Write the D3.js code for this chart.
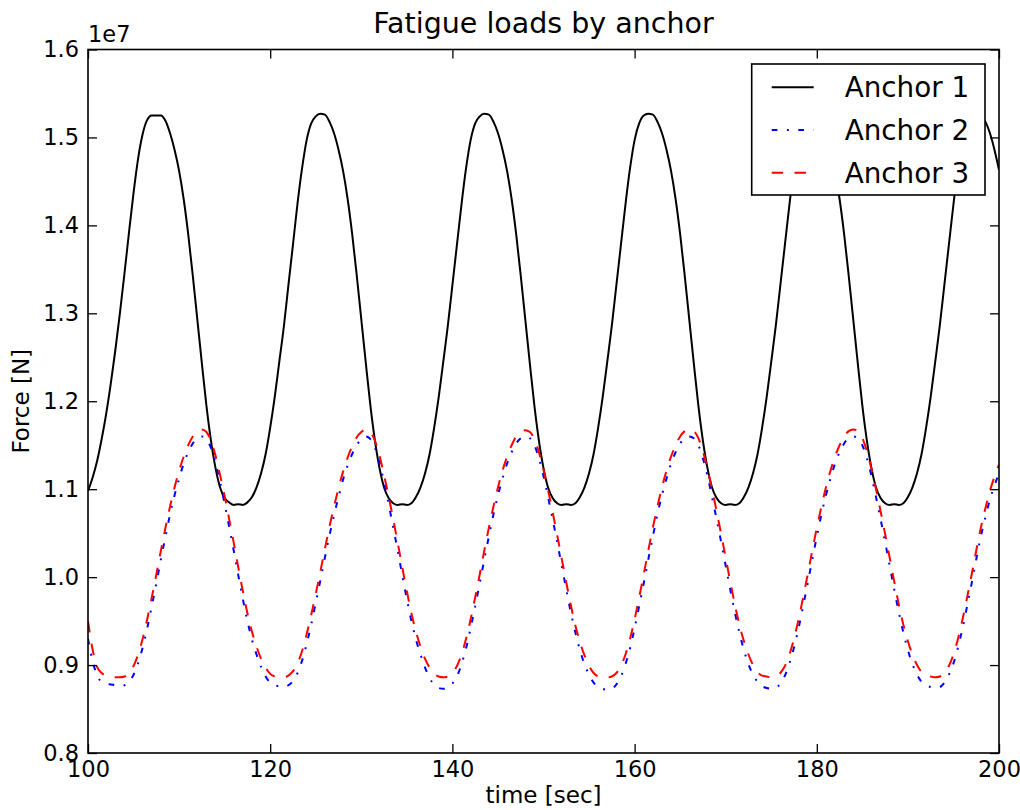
<!DOCTYPE html>
<html>
<head>
<meta charset="utf-8">
<script src="https://cdn.jsdelivr.net/npm/d3@7"></script>
<style>
  body { margin: 0; background: #fff; }
  text { font-family: "DejaVu Sans", sans-serif; fill: #000; }
</style>
</head>
<body>
<script>
// sampling grid of the time series (sec)
const tStart = 100, tStep = 0.5;

// force values in units of 1e7 N, one sample every 0.5 s from t=100 to t=200
const anchor1 = [
  1.098, 1.113, 1.132, 1.157, 1.186, 1.220, 1.258, 1.300, 1.345, 1.392, 1.437, 1.476, 1.504, 1.520, 1.525,
  1.525, 1.525, 1.519, 1.505, 1.486, 1.462, 1.430, 1.390, 1.343, 1.293, 1.243, 1.195, 1.155, 1.124, 1.102, 1.090, 1.085, 1.082,
  1.083, 1.082, 1.085, 1.091, 1.102, 1.118, 1.140, 1.170, 1.205, 1.245, 1.285, 1.332, 1.378, 1.425, 1.465, 1.497, 1.516, 1.524,
  1.527, 1.526, 1.518, 1.505, 1.486, 1.462, 1.430, 1.390, 1.343, 1.293, 1.243, 1.195, 1.155, 1.124, 1.102, 1.090, 1.084, 1.082,
  1.083, 1.082, 1.084, 1.091, 1.102, 1.118, 1.140, 1.170, 1.205, 1.245, 1.286, 1.332, 1.378, 1.424, 1.465, 1.497, 1.516, 1.524,
  1.527, 1.526, 1.518, 1.505, 1.486, 1.462, 1.430, 1.390, 1.343, 1.293, 1.243, 1.195, 1.155, 1.124, 1.102, 1.090, 1.084, 1.082,
  1.083, 1.082, 1.084, 1.091, 1.102, 1.118, 1.140, 1.170, 1.205, 1.245, 1.286, 1.332, 1.378, 1.424, 1.465, 1.497, 1.516, 1.525,
  1.527, 1.526, 1.518, 1.505, 1.486, 1.462, 1.430, 1.390, 1.343, 1.293, 1.243, 1.195, 1.155, 1.124, 1.102, 1.090, 1.084, 1.082,
  1.083, 1.082, 1.084, 1.091, 1.102, 1.118, 1.140, 1.170, 1.205, 1.245, 1.286, 1.332, 1.378, 1.424, 1.465, 1.497, 1.516, 1.524,
  1.527, 1.526, 1.518, 1.505, 1.486, 1.462, 1.430, 1.390, 1.343, 1.293, 1.243, 1.195, 1.155, 1.124, 1.102, 1.090, 1.084, 1.082,
  1.083, 1.082, 1.084, 1.091, 1.102, 1.118, 1.140, 1.170, 1.205, 1.245, 1.286, 1.332, 1.378, 1.424, 1.465, 1.497, 1.516, 1.524,
  1.527, 1.525, 1.518, 1.505, 1.486, 1.463
];

const anchor2 = [
  0.930, 0.905, 0.888, 0.881, 0.879, 0.878, 0.877,
  0.876, 0.877, 0.881, 0.889, 0.902, 0.920, 0.942, 0.967, 0.993, 1.020, 1.046, 1.071, 1.093, 1.112, 1.129, 1.142, 1.152, 1.158, 1.160,
  1.157, 1.147, 1.130, 1.108, 1.083, 1.057, 1.030, 1.002, 0.975, 0.950, 0.929, 0.912, 0.898, 0.887, 0.880, 0.877, 0.876,
  0.875, 0.877, 0.882, 0.891, 0.905, 0.924, 0.946, 0.971, 0.996, 1.022, 1.047, 1.070, 1.091, 1.111, 1.127, 1.140, 1.150, 1.157, 1.160,
  1.157, 1.147, 1.130, 1.108, 1.083, 1.057, 1.030, 1.002, 0.975, 0.950, 0.929, 0.912, 0.897, 0.885, 0.878, 0.874, 0.873,
  0.874, 0.879, 0.887, 0.901, 0.919, 0.942, 0.967, 0.993, 1.020, 1.046, 1.071, 1.093, 1.112, 1.129, 1.142, 1.152, 1.158, 1.160,
  1.158, 1.150, 1.135, 1.115, 1.091, 1.066, 1.040, 1.013, 0.986, 0.960, 0.937, 0.917, 0.901, 0.889, 0.880, 0.875, 0.873, 0.872,
  0.873, 0.878, 0.887, 0.901, 0.919, 0.942, 0.967, 0.993, 1.020, 1.046, 1.071, 1.093, 1.112, 1.129, 1.142, 1.152, 1.158, 1.160,
  1.158, 1.150, 1.135, 1.115, 1.091, 1.066, 1.040, 1.013, 0.986, 0.960, 0.937, 0.917, 0.901, 0.889, 0.881, 0.876, 0.874, 0.873,
  0.874, 0.879, 0.888, 0.902, 0.920, 0.942, 0.967, 0.993, 1.020, 1.046, 1.071, 1.093, 1.112, 1.129, 1.142, 1.152, 1.158, 1.160,
  1.158, 1.150, 1.135, 1.115, 1.091, 1.066, 1.040, 1.013, 0.986, 0.960, 0.937, 0.917, 0.901, 0.889, 0.881, 0.877, 0.875, 0.874,
  0.875, 0.880, 0.889, 0.902, 0.920, 0.942, 0.967, 0.993, 1.020, 1.046, 1.068, 1.088, 1.104, 1.118
];

const anchor3 = [
  0.950, 0.918, 0.898, 0.891, 0.888, 0.887, 0.886,
  0.886, 0.887, 0.891, 0.899, 0.912, 0.930, 0.952, 0.977, 1.003, 1.030, 1.056, 1.080, 1.102, 1.121, 1.137, 1.150, 1.160, 1.166, 1.168,
  1.165, 1.155, 1.138, 1.116, 1.092, 1.066, 1.039, 1.011, 0.984, 0.959, 0.938, 0.921, 0.907, 0.897, 0.890, 0.887, 0.886,
  0.886, 0.888, 0.893, 0.902, 0.916, 0.935, 0.957, 0.981, 1.006, 1.032, 1.057, 1.080, 1.101, 1.120, 1.136, 1.149, 1.159, 1.165, 1.168,
  1.165, 1.155, 1.138, 1.116, 1.092, 1.066, 1.039, 1.011, 0.984, 0.959, 0.938, 0.921, 0.907, 0.897, 0.890, 0.887, 0.886,
  0.887, 0.891, 0.899, 0.912, 0.930, 0.952, 0.977, 1.003, 1.030, 1.056, 1.080, 1.102, 1.121, 1.137, 1.150, 1.160, 1.165, 1.167,
  1.165, 1.157, 1.142, 1.122, 1.099, 1.074, 1.048, 1.021, 0.994, 0.968, 0.945, 0.926, 0.911, 0.899, 0.891, 0.887, 0.886, 0.886,
  0.887, 0.891, 0.899, 0.912, 0.930, 0.952, 0.977, 1.003, 1.030, 1.056, 1.080, 1.102, 1.121, 1.137, 1.150, 1.160, 1.166, 1.168,
  1.166, 1.158, 1.143, 1.123, 1.100, 1.075, 1.049, 1.022, 0.995, 0.969, 0.946, 0.927, 0.912, 0.900, 0.892, 0.888, 0.887, 0.886,
  0.887, 0.891, 0.899, 0.912, 0.930, 0.952, 0.977, 1.003, 1.030, 1.056, 1.080, 1.102, 1.121, 1.137, 1.150, 1.160, 1.166, 1.168,
  1.166, 1.158, 1.143, 1.123, 1.100, 1.075, 1.049, 1.022, 0.995, 0.969, 0.946, 0.927, 0.912, 0.900, 0.892, 0.888, 0.887, 0.886,
  0.887, 0.891, 0.899, 0.912, 0.930, 0.952, 0.977, 1.003, 1.030, 1.056, 1.078, 1.098, 1.114, 1.128
];

const seriesNames = ["Anchor 1", "Anchor 2", "Anchor 3"];
const seriesValues = [anchor1, anchor2, anchor3];
const seriesColors = ["#000000", "#0000ff", "#ff0000"];
const seriesDashes = [null, "5.7,9.5,1.9,9.5", "11.4,11.4"];

const xTicks = [100, 120, 140, 160, 180, 200];
const yTicks = [0.8, 0.9, 1.0, 1.1, 1.2, 1.3, 1.4, 1.5, 1.6];

const width = 1020, height = 810;
const plot = { left: 88, right: 999, top: 49.5, bottom: 753 };

const svg = d3.select("body").append("svg")
    .attr("width", width)
    .attr("height", height);

const x = d3.scaleLinear().domain([100, 200]).range([plot.left, plot.right]);
const y = d3.scaleLinear().domain([0.8, 1.6]).range([plot.bottom, plot.top]);

svg.append("clipPath").attr("id", "plotclip")
  .append("rect")
    .attr("x", plot.left).attr("y", plot.top)
    .attr("width", plot.right - plot.left).attr("height", plot.bottom - plot.top);

// lines
const line = d3.line()
    .x((d, i) => x(tStart + i * tStep))
    .y(d => y(d))
    .curve(d3.curveMonotoneX);

svg.append("g").attr("clip-path", "url(#plotclip)")
  .selectAll("path")
  .data(seriesValues)
  .enter().append("path")
    .attr("d", line)
    .attr("fill", "none")
    .attr("stroke", (d, i) => seriesColors[i])
    .attr("stroke-width", 2)
    .attr("stroke-dasharray", (d, i) => seriesDashes[i])
    .attr("stroke-linejoin", "round");

// axes, ticks pointing inwards on all four sides
function styleAxis(g) {
  g.select(".domain").remove();
  g.selectAll(".tick line").attr("stroke", "#000").attr("stroke-width", 1.3);
  g.selectAll(".tick text").attr("font-size", 22.5).attr("fill", "#000");
}

svg.append("g")
    .attr("transform", `translate(${plot.left},0)`)
    .call(d3.axisLeft(y).tickValues(yTicks).tickSize(-9).tickPadding(9).tickFormat(d3.format(".1f")))
    .call(styleAxis)
    .attr("font-family", null);

svg.append("g")
    .attr("transform", `translate(${plot.right},0)`)
    .call(d3.axisRight(y).tickValues(yTicks).tickSize(-9).tickFormat(""))
    .call(styleAxis);

svg.append("g")
    .attr("transform", `translate(0,${plot.bottom})`)
    .call(d3.axisBottom(x).tickValues(xTicks).tickSize(-9).tickPadding(8).tickFormat(d3.format("d")))
    .call(styleAxis)
    .attr("font-family", null);

svg.append("g")
    .attr("transform", `translate(0,${plot.top})`)
    .call(d3.axisTop(x).tickValues(xTicks).tickSize(-9).tickFormat(""))
    .call(styleAxis);

// frame
svg.append("rect")
    .attr("x", plot.left).attr("y", plot.top)
    .attr("width", plot.right - plot.left).attr("height", plot.bottom - plot.top)
    .attr("fill", "none")
    .attr("stroke", "#000")
    .attr("stroke-width", 1.6);

// offset text, title, labels
svg.append("text")
    .attr("x", plot.left).attr("y", 41.5)
    .attr("font-size", 22.5)
    .text("1e7");

svg.append("text")
    .attr("x", (plot.left + plot.right) / 2).attr("y", 33)
    .attr("text-anchor", "middle")
    .attr("font-size", 28.5)
    .text("Fatigue loads by anchor");

svg.append("text")
    .attr("x", (plot.left + plot.right) / 2).attr("y", 803)
    .attr("text-anchor", "middle")
    .attr("font-size", 23)
    .text("time [sec]");

svg.append("text")
    .attr("transform", `translate(29,${(plot.top + plot.bottom) / 2}) rotate(-90)`)
    .attr("text-anchor", "middle")
    .attr("font-size", 23)
    .text("Force [N]");

// legend
const legend = svg.append("g").attr("transform", "translate(751.7,64)");

legend.append("rect")
    .attr("width", 233.3).attr("height", 131)
    .attr("fill", "#fff")
    .attr("stroke", "#000")
    .attr("stroke-width", 1.6);

const item = legend.selectAll(".item")
    .data(seriesNames)
    .enter().append("g")
    .attr("class", "item")
    .attr("transform", (d, i) => `translate(0,${23.3 + i * 42.7})`);

item.append("line")
    .attr("x1", 20).attr("x2", 62)
    .attr("stroke", (d, i) => seriesColors[i])
    .attr("stroke-width", 2)
    .attr("stroke-dasharray", (d, i) => seriesDashes[i]);

item.append("text")
    .attr("x", 93)
    .attr("dy", "0.36em")
    .attr("font-size", 27.8)
    .text(d => d);
</script>
</body>
</html>
